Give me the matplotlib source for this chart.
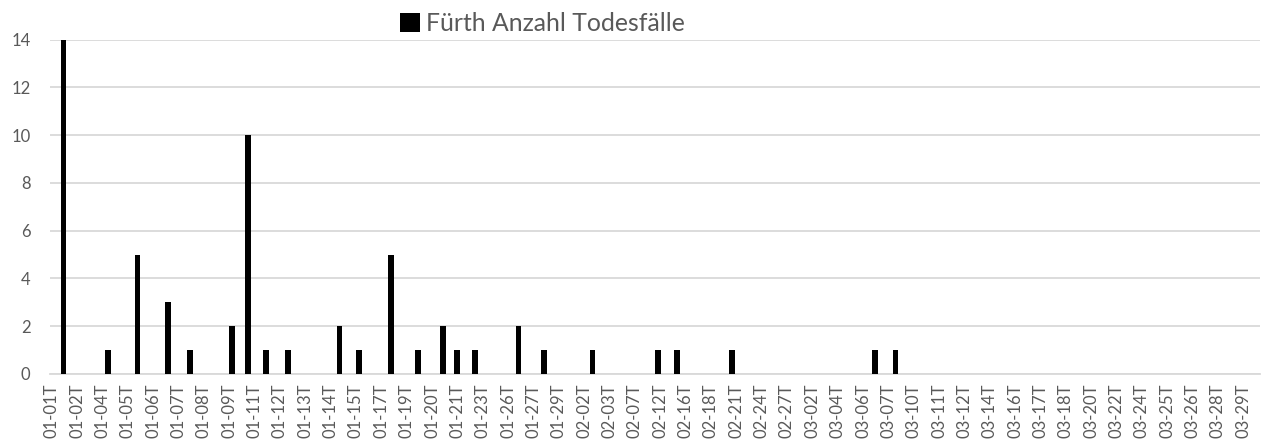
import numpy as np
import matplotlib.pyplot as plt

# tick labels on the x axis (one per category slot)
date_labels = ['01-01T', '01-02T', '01-04T', '01-05T', '01-06T', '01-07T', '01-08T', '01-09T',
               '01-11T', '01-12T', '01-13T', '01-14T', '01-15T', '01-17T', '01-19T', '01-20T',
               '01-21T', '01-23T', '01-26T', '01-27T', '01-29T', '02-02T', '02-03T', '02-07T',
               '02-12T', '02-16T', '02-18T', '02-21T', '02-24T', '02-27T', '03-02T', '03-04T',
               '03-06T', '03-07T', '03-10T', '03-11T', '03-12T', '03-14T', '03-16T', '03-17T',
               '03-18T', '03-20T', '03-22T', '03-24T', '03-25T', '03-26T', '03-28T', '03-29T']

# bar positions, in units of label slots
bar_pos = [0.46, 2.21, 3.38, 4.58, 5.46, 7.10, 7.73, 8.44, 9.31, 11.35, 12.12, 13.37,
           14.44, 15.44, 15.98, 16.69, 18.41, 19.41, 21.33, 23.91, 24.67, 26.84, 32.48, 33.28]
deaths = [14, 1, 5, 3, 1, 2, 10, 1, 1, 2, 1, 5,
          1, 2, 1, 1, 2, 1, 1, 1, 1, 1, 1, 1]

series_name = 'Fürth Anzahl Todesfälle'

plt.rcParams['font.family'] = ['Lato', 'DejaVu Sans']
grey = '#595959'

fig = plt.figure(figsize=(12.62, 4.46), dpi=100)
ax = fig.add_axes([50/1262, 1-374/446, 1210/1262, (374-39.5)/446])

ax.bar(bar_pos, deaths, width=0.23, color='black', label=series_name, zorder=3)

ax.set_ylim(0, 14)
ax.set_yticks(np.arange(0, 15, 2))
ax.set_xlim(-0.07, 47.66)
ax.set_xticks(np.arange(len(date_labels)))
ax.set_xticklabels(date_labels, rotation=90)

ax.grid(axis='y', color='#d9d9d9', linewidth=1.3, zorder=0)
for s in ['top', 'right', 'left']:
    ax.spines[s].set_visible(False)
ax.spines['bottom'].set_color('#d9d9d9')
ax.spines['bottom'].set_linewidth(1.3)
ax.tick_params(axis='both', length=0, colors=grey, labelsize=12)
ax.tick_params(axis='y', pad=14)
ax.tick_params(axis='x', pad=7)

fig.legend(loc='center', bbox_to_anchor=(0.43, 0.948), frameon=False,
           fontsize=17.8, labelcolor=grey, handlelength=0.8, handleheight=0.8,
           handletextpad=0.25, borderaxespad=0)

plt.savefig('out.png', dpi=100)
